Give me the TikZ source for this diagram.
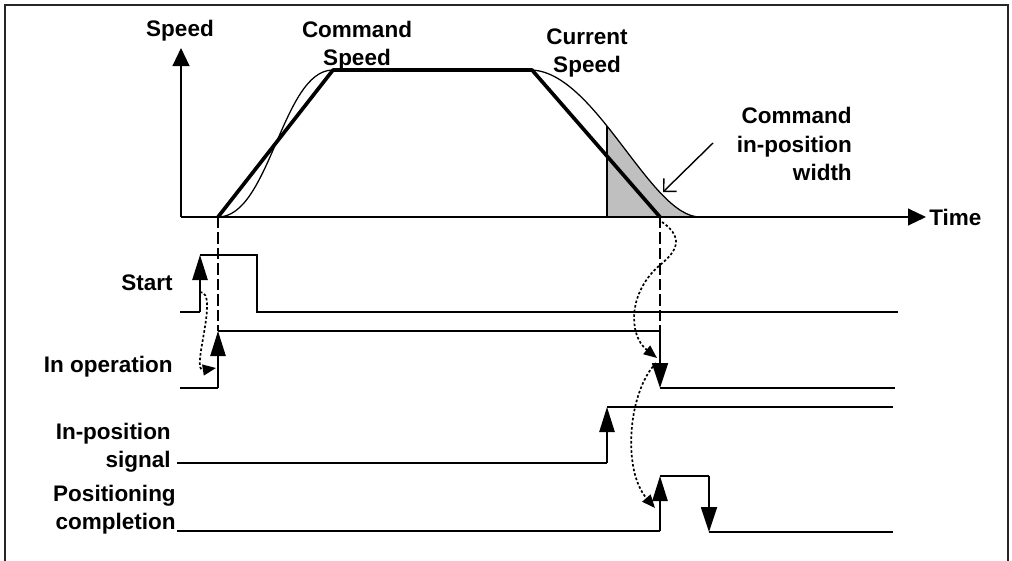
\documentclass[tikz,border=0pt]{standalone}
\usepackage{fontspec}
\setmainfont{Liberation Sans}
\usetikzlibrary{arrows.meta}

\begin{document}
\begin{tikzpicture}[
x=0.025cm,y=-0.025cm,
sig/.style={line width=1.3pt},
edgeup/.style={sig, -{Triangle[length=0.625cm,width=0.38cm]}},
edgedn/.style={sig, -{Triangle[length=0.625cm,width=0.4cm]}},
axis/.style={line width=1.3pt, -{Triangle[length=0.45cm,width=0.42cm]}},
cmd/.style={line width=2.6pt, line join=round},
cur/.style={line width=0.9pt},
guide/.style={line width=1.3pt, dash pattern=on 8pt off 3pt},
cause/.style={line width=1.2pt, dash pattern=on 1.8pt off 1.5pt, -{Triangle[length=0.33cm,width=0.27cm]}},
lbl/.style={font=\fontsize{16}{20}\selectfont\bfseries, align=right, inner sep=0pt}
]
\useasboundingbox (0,0) rectangle (1012,560);
\draw[line width=1.4pt, black!85] (5,562) -- (5,5) -- (1008,5) -- (1008,562);

% speed chart
\coordinate (o) at (181,217);
\coordinate (cs0) at (218,217);
\coordinate (cs1) at (333,70);
\coordinate (cs2) at (532,70);
\coordinate (cs3) at (660,217);

\begin{scope}
\clip (530,70) .. controls (595,70) and (650,217) .. (700,217) -- (530,217) -- cycle;
\fill[gray!50] (607,40) rectangle (720,217);
\draw[sig] (607,40) -- (607,217);
\end{scope}

\draw[axis] (o) -- (181,48);
\draw[axis] (o) -- (926,217);
\draw[cur] (cs0) .. controls (270,217) and (282,70) .. (cs1) -- (530,70)
  .. controls (595,70) and (650,217) .. (700,217);
\draw[cmd] (cs0) -- (cs1) -- (cs2) -- (cs3);
\draw[line width=1pt, -{Straight Barb[length=0.23cm,width=0.46cm]}] (713,143) -- (663,192);

\node[lbl] (spdl) at (180,31) {Speed};
\node[lbl, anchor=west] (timel) at (929,217) {Time};
\node[lbl, align=center] (cmdl) at (357,46) {Command\\Speed};
\node[lbl, align=center] (curl) at (587,53) {Current\\Speed};
\node[lbl, anchor=east] (ipwl) at (852,144) {Command\\in-position\\width};

% signals
\node[lbl, anchor=east] (startl) at (173,283) {Start};
\node[lbl, anchor=east] (opl) at (173,367) {In operation};
\node[lbl, anchor=east] (ipl) at (171,448) {In-position\\signal};
\node[lbl, anchor=east] (pcl) at (176,510) {Positioning\\completion};

\draw[guide] (cs0) -- (218,331);
\draw[guide] (cs3) -- (660,331);

\draw[sig] (180,312) -- (200,312);
\draw[edgeup] (200,312) -- (200,255);
\draw[sig] (200,255) -- (257,255) -- (257,312) -- (898,312);

\draw[sig] (180,388) -- (218,388);
\draw[edgeup] (218,388) -- (218,331);
\draw[sig] (218,331) -- (660,331);
\draw[edgedn] (660,331) -- (660,388);
\draw[sig] (660,388) -- (895,388);

\draw[sig] (177,463) -- (607,463);
\draw[edgeup] (607,463) -- (607,407);
\draw[sig] (607,407) -- (893,407);

\draw[sig] (177,531) -- (660,531);
\draw[edgeup] (660,531) -- (660,476);
\draw[sig] (660,476) -- (709,476);
\draw[edgedn] (709,476) -- (709,532);
\draw[sig] (709,532) -- (893,532);

% dotted cause arrows
\draw[cause] (200,292) .. controls (220,292) and (190,372) .. (216,368);
\draw[cause] (662,222) .. controls (688,240) and (672,255) .. (660,265)
  .. controls (628,292) and (628,335) .. (657,358);
\draw[cause] (656,363) .. controls (628,392) and (622,470) .. (655,508);
\end{tikzpicture}
\end{document}
